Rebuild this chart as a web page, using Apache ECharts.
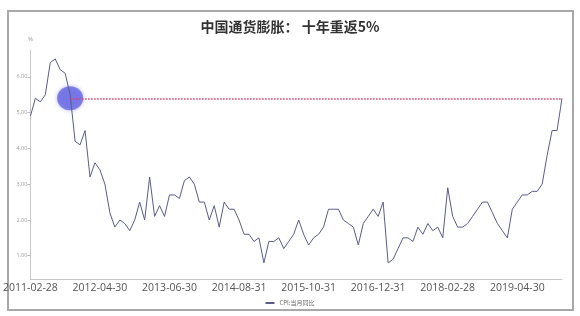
<!DOCTYPE html>
<html>
<head>
<meta charset="utf-8">
<script src="https://cdn.jsdelivr.net/npm/echarts@6/dist/echarts.min.js"></script>
<style>
html,body{margin:0;padding:0;background:#fff;}
#chart{width:580px;height:316px;}
</style>
</head>
<body>
<div id="chart"></div>
<script>
// Monthly CPI YoY (%), 2011-02 .. 2020-01
const cpi2011 = [4.9, 5.4, 5.3, 5.5, 6.4, 6.5, 6.2, 6.1, 5.5, 4.2, 4.1];
const cpi2012 = [4.5, 3.2, 3.6, 3.4, 3.0, 2.2, 1.8, 2.0, 1.9, 1.7, 2.0, 2.5];
const cpi2013 = [2.0, 3.2, 2.1, 2.4, 2.1, 2.7, 2.7, 2.6, 3.1, 3.2, 3.0, 2.5];
const cpi2014 = [2.5, 2.0, 2.4, 1.8, 2.5, 2.3, 2.3, 2.0, 1.6, 1.6, 1.4, 1.5];
const cpi2015 = [0.8, 1.4, 1.4, 1.5, 1.2, 1.4, 1.6, 2.0, 1.6, 1.3, 1.5, 1.6];
const cpi2016 = [1.8, 2.3, 2.3, 2.3, 2.0, 1.9, 1.8, 1.3, 1.9, 2.1, 2.3, 2.1];
const cpi2017 = [2.5, 0.8, 0.9, 1.2, 1.5, 1.5, 1.4, 1.8, 1.6, 1.9, 1.7, 1.8];
const cpi2018 = [1.5, 2.9, 2.1, 1.8, 1.8, 1.9, 2.1, 2.3, 2.5, 2.5, 2.2, 1.9];
const cpi2019 = [1.7, 1.5, 2.3, 2.5, 2.7, 2.7, 2.8, 2.8, 3.0, 3.8, 4.5, 4.5];
const cpi2020 = [5.4];
const cpiValues = [].concat(cpi2011, cpi2012, cpi2013, cpi2014, cpi2015, cpi2016, cpi2017, cpi2018, cpi2019, cpi2020);

// month-end date categories starting 2011-02
function monthEnd(y, m) {
  const d = new Date(Date.UTC(y, m, 0)).getUTCDate();
  return y + '-' + String(m).padStart(2, '0') + '-' + String(d).padStart(2, '0');
}
const categories = [];
{
  let y = 2011, m = 2;
  for (let i = 0; i < cpiValues.length; i++) {
    categories.push(monthEnd(y, m));
    m++; if (m > 12) { m = 1; y++; }
  }
}

const titleText = '中国通货膨胀： 十年重返5%';
const seriesName = 'CPI:当月同比';
const highlightStart = ['2011-10-31', 5.4];
const highlightEnd = ['2020-01-31', 5.4];

const chart = echarts.init(document.getElementById('chart'), null, {renderer: 'canvas'});
chart.setOption({
  animation: false,
  backgroundColor: '#fff',
  textStyle: {fontFamily: '"Open Sans", "Noto Sans CJK SC", sans-serif'},
  graphic: [{
    type: 'rect', silent: true, z: -10,
    shape: {x: 8, y: 11, width: 565, height: 299},
    style: {fill: 'none', stroke: '#a8a8a8', lineWidth: 2}
  }],
  title: {
    text: titleText, left: 'center', top: 15,
    textStyle: {fontSize: 14, fontWeight: 'bold', color: '#333', fontFamily: '"Noto Sans CJK SC", sans-serif'}
  },
  legend: {
    bottom: 5, left: 'center',
    data: [seriesName],
    icon: 'rect', itemWidth: 9, itemHeight: 2, itemGap: 4,
    textStyle: {fontSize: 6, color: '#666', fontFamily: '"Noto Sans CJK SC", sans-serif'}
  },
  grid: {left: 30, right: 18, top: 50, bottom: 37, containLabel: false},
  xAxis: {
    type: 'category', boundaryGap: false, data: categories,
    axisLine: {lineStyle: {color: '#c8c8c8'}},
    axisTick: {show: false},
    axisLabel: {interval: 13, fontSize: 10.5, color: '#555', margin: 4, hideOverlap: false},
    splitLine: {show: false}
  },
  yAxis: {
    type: 'value', min: 0.35, max: 6.75, splitNumber: 6,
    name: '%', nameGap: 8,
    nameTextStyle: {fontSize: 6, color: '#999'},
    axisLine: {show: true, lineStyle: {color: '#c8c8c8'}},
    axisTick: {show: true, length: 3, lineStyle: {color: '#bbb'}},
    axisLabel: {fontSize: 5.5, color: '#999', margin: 3, showMinLabel: false, showMaxLabel: false,
      formatter: v => v.toFixed(2)},
    splitLine: {show: false}
  },
  series: [{
    name: 'highlight', type: 'scatter', z: 1, silent: true,
    data: [highlightStart],
    symbol: 'circle', symbolSize: [26, 24],
    itemStyle: {color: 'rgba(92,92,226,0.9)', shadowBlur: 4, shadowColor: 'rgba(92,92,226,0.6)'}
  }, {
    name: seriesName, type: 'line', z: 3,
    data: cpiValues,
    showSymbol: false, symbol: 'none',
    lineStyle: {color: '#595d8a', width: 1},
    itemStyle: {color: '#595d8a'},
    markLine: {
      silent: true, symbol: ['none', 'none'],
      label: {show: false},
      lineStyle: {color: '#e43a6a', type: 'dotted', width: 1.5},
      data: [[{coord: highlightStart}, {coord: highlightEnd}]]
    }
  }]
});
</script>
</body>
</html>
